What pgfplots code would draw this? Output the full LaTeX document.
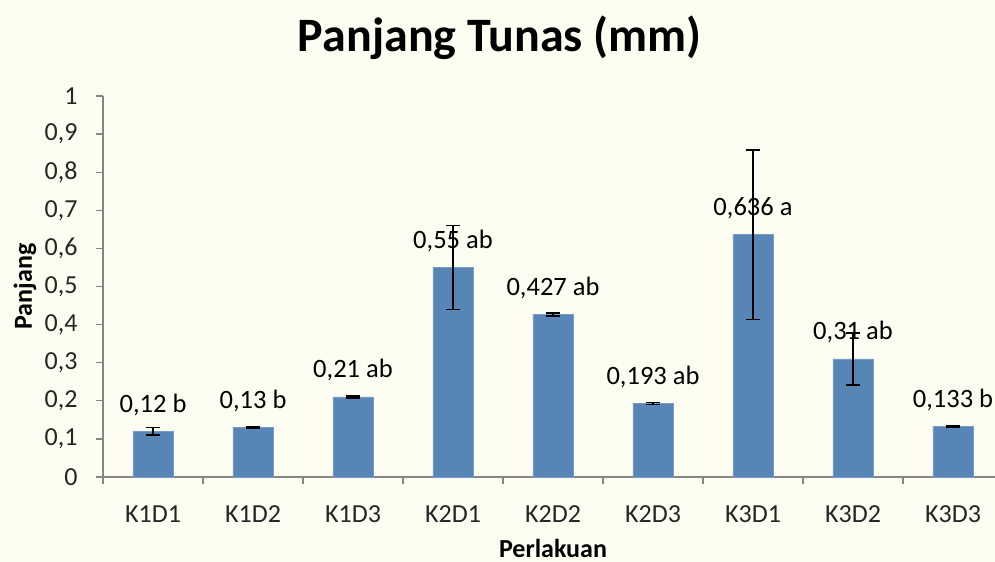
\documentclass[border=0pt]{standalone}
\usepackage{pgfplots}
\pgfplotsset{compat=1.18}
\usepackage{pgfplotstable}
\usepackage{fontspec}
\setmainfont{Carlito}
\definecolor{barc}{RGB}{86,133,182}
\definecolor{axc}{RGB}{134,134,134}
\definecolor{bgc}{RGB}{253,253,242}
\pgfplotstableread{
x y e lab
0 0.12 0.0095 {0,12 b}
1 0.13 0.002 {0,13 b}
2 0.21 0.002 {0,21 ab}
3 0.55 0.11 {0,55 ab}
4 0.427 0.004 {0,427 ab}
5 0.193 0.003 {0,193 ab}
6 0.636 0.223 {0,636 a}
7 0.31 0.068 {0,31 ab}
8 0.133 0.002 {0,133 b}
}\data
\begin{document}
\begin{tikzpicture}
\useasboundingbox (-103bp,-85bp) rectangle (892bp,477bp);
\fill[bgc] (-103bp,-85bp) rectangle (892bp,477bp);
\begin{axis}[
  at={(0,0)}, anchor=south west,
  scale only axis, width=900bp, height=381bp,
  xmin=-0.5, xmax=8.5, ymin=0, ymax=1,
  axis lines=left, axis line style={-, axc, line width=1.2bp},
  tick style={axc, line width=1.2bp}, tick align=outside,
  major tick length=7bp,
  xtick={-0.5,0.5,...,8.5}, x tick label as interval,
  xticklabels={K1D1,K1D2,K1D3,K2D1,K2D2,K2D3,K3D1,K3D2,K3D3},
  ytick={0,0.1,0.2,0.3,0.4,0.5,0.6,0.7,0.8,0.9,1},
  /pgf/number format/assume math mode=true,
  /pgf/number format/use comma,
  yticklabel style={/pgf/number format/fixed, /pgf/number format/precision=1},
  ticklabel style={font=\fontsize{26bp}{30bp}\selectfont, text=black!85},
  yticklabel style={xshift=-15bp},
  xticklabel style={yshift=-18bp},
  ylabel={Panjang}, xlabel={Perlakuan},
  ylabel style={at={(axis description cs:-0.0867,0.5)}, anchor=center, font=\fontsize{26bp}{30bp}\selectfont\bfseries},
  xlabel style={at={(axis description cs:0.5,0)}, anchor=base, yshift=-80bp, font=\fontsize{26bp}{30bp}\selectfont\bfseries},
  title={Panjang Tunas (mm)},
  title style={at={(axis description cs:0.441,1.138)}, anchor=center, font=\fontsize{48bp}{54bp}\selectfont\bfseries},
  clip=false,
]
\addplot[ybar, bar width=40bp, fill=barc, draw=barc!80!white,
  error bars/.cd, y dir=both, y explicit,
  error bar style={black, line width=1.6bp},
  error mark options={black, rotate=90, mark size=7bp, line width=1.6bp}]
  table[x=x, y=y, y error=e] {\data};
\addplot[only marks, mark=none,
  nodes near coords, point meta=explicit symbolic,
  every node near coord/.append style={anchor=base, yshift=19bp, inner sep=0pt, text=black, font=\fontsize{26.5bp}{30bp}\selectfont}]
  table[x=x, y=y, meta=lab] {\data};
\end{axis}
\end{tikzpicture}
\end{document}
